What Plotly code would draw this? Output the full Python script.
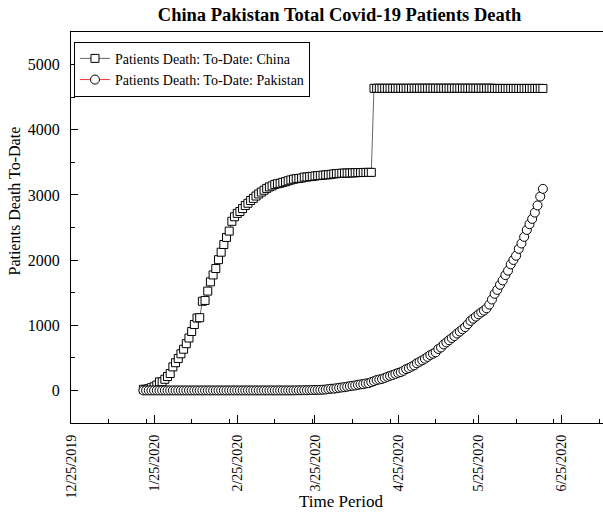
import pandas as pd
import plotly.graph_objects as go

# ---------------- data ----------------
start_date = "2020-01-21"

china_deaths = [
    17, 18, 26, 42, 56, 82, 131, 133, 171, 213,
    259, 361, 425, 490, 562, 632, 717, 804, 904, 1011,
    1111, 1116, 1368, 1381, 1524, 1666, 1772, 1870, 2006, 2121,
    2239, 2348, 2445, 2595, 2665, 2717, 2746, 2790, 2837,
    2872, 2914, 2947, 2983, 3015, 3044, 3072, 3100, 3123, 3139,
    3161, 3172, 3180, 3193, 3203, 3217, 3230, 3241, 3249, 3253,
    3259, 3274, 3274, 3281, 3285, 3291, 3296, 3299, 3304, 3308, 3309,
    3316, 3322, 3326, 3330, 3333, 3335, 3335, 3337, 3339, 3340,
    3343, 3343, 3345, 3345, 3346, 3346,
    4636, 4636, 4636, 4636, 4636, 4636, 4636, 4636, 4636, 4636, 4636, 4636, 4636, 4636,
    4637, 4637, 4637, 4637, 4637, 4637, 4637, 4637, 4637, 4637,
    4637, 4637, 4637, 4637, 4637, 4637, 4637, 4637, 4637, 4637,
    4637, 4637, 4637, 4637, 4637, 4637, 4637, 4637, 4637, 4637, 4637,
    4634, 4634, 4634, 4634, 4634, 4634, 4634, 4634, 4634, 4634,
    4634, 4634, 4634, 4634, 4634, 4634, 4634, 4634, 4634,
]

pakistan_deaths = [0] * 56 + [
    0, 1, 2, 2, 3, 3, 5, 6, 7, 8, 9, 11, 14, 21,
    26, 27, 33, 40, 45, 50, 57, 65, 71, 76,
    86, 93, 96, 107, 111, 128, 143, 159, 168, 176,
    192, 209, 224, 237, 253, 269, 281, 301, 327, 343,
    365, 385, 417, 440, 462, 486, 514, 544, 564, 585,
    636, 659, 706, 737, 770, 803, 834, 873, 903, 939,
    971, 1017, 1067, 1101, 1133, 1167, 1197, 1225, 1260, 1317, 1395,
    1483, 1543, 1621, 1688, 1770, 1838, 1935, 2002, 2067, 2172,
    2255, 2356, 2463, 2551, 2632, 2729, 2839, 2975, 3093,
]

dates = pd.date_range(start_date, periods=len(china_deaths), freq="D")

x_tick_labels = ["12/25/2019", "1/25/2020", "2/25/2020", "3/25/2020",
                 "4/25/2020", "5/25/2020", "6/25/2020"]
x_minor_ticks = ["2020-01-08", "2020-01-22", "2020-02-08", "2020-02-22",
                 "2020-03-10", "2020-03-24", "2020-04-08", "2020-04-22",
                 "2020-05-09", "2020-05-23", "2020-06-08", "2020-06-22",
                 "2020-07-09"]
y_ticks = [0, 1000, 2000, 3000, 4000, 5000]

series_names = ["Patients Death: To-Date: China",
                "Patients Death: To-Date: Pakistan"]

# ---------------- figure ----------------
FONT = "Liberation Serif, Times New Roman, serif"

fig = go.Figure()
fig.add_trace(go.Scatter(
    x=dates, y=china_deaths, name=series_names[0], mode="lines+markers",
    line=dict(color="#666666", width=1),
    marker=dict(symbol="square", size=8, color="white",
                line=dict(color="black", width=1)),
))
fig.add_trace(go.Scatter(
    x=dates, y=pakistan_deaths, name=series_names[1], mode="lines+markers",
    line=dict(color="#ff3030", width=1),
    marker=dict(symbol="circle", size=9, color="white",
                line=dict(color="black", width=1)),
))

tick_dates = pd.to_datetime(x_tick_labels, format="%m/%d/%Y")

fig.update_layout(
    width=603, height=513,
    margin=dict(l=71, r=0, t=32, b=90),
    paper_bgcolor="white", plot_bgcolor="white",
    font=dict(family=FONT, color="black"),
    title=dict(text="<b>China Pakistan Total Covid-19 Patients Death</b>",
               x=0.563, xanchor="center", y=0.972, yanchor="middle",
               xref="container", yref="container",
               font=dict(family=FONT, size=18.5, color="black")),
    showlegend=True,
    legend=dict(x=0.0056, y=0.975, xanchor="left", yanchor="top",
                bgcolor="white", bordercolor="black", borderwidth=1,
                font=dict(family=FONT, size=14, color="black"),
                itemwidth=30, tracegroupgap=0),
    xaxis=dict(
        type="date",
        range=["2019-12-25", "2020-07-10 10:00"],
        tickmode="array", tickvals=tick_dates, ticktext=x_tick_labels,
        tickangle=-90, ticks="inside", ticklen=8, tickwidth=1,
        tickcolor="black", ticklabelstandoff=5,
        tickfont=dict(family=FONT, size=14, color="black"),
        minor=dict(tickmode="array", tickvals=x_minor_ticks, ticks="inside",
                   ticklen=4, tickwidth=1, tickcolor="black", showgrid=False),
        showline=True, linecolor="black", linewidth=1.3, mirror=True,
        showgrid=False, zeroline=False,
    ),
    yaxis=dict(
        range=[-500, 5500],
        tickmode="array", tickvals=y_ticks,
        ticks="inside", ticklen=7, tickwidth=1, tickcolor="black",
        ticklabelstandoff=7,
        tickfont=dict(family=FONT, size=16, color="black"),
        minor=dict(dtick=500, tick0=0, ticks="inside", ticklen=4,
                   tickwidth=1, tickcolor="black", showgrid=False),
        showline=True, linecolor="black", linewidth=1.3, mirror=False,
        showgrid=False, zeroline=False,
    ),
    annotations=[
        dict(text="Time Period", xref="paper", yref="paper",
             x=0.5075, y=-0.202, xanchor="center", yanchor="middle",
             showarrow=False, font=dict(family=FONT, size=17, color="black")),
        dict(text="Patients Death To-Date", xref="paper", yref="paper",
             x=-0.106, y=0.568, xanchor="center", yanchor="middle",
             textangle=-90, showarrow=False,
             font=dict(family=FONT, size=16, color="black")),
    ],
)

fig.write_html("out.html",
               config={"displayModeBar": False},
               post_script="document.body.style.margin='0px';"
                           "document.body.style.overflow='hidden';")
